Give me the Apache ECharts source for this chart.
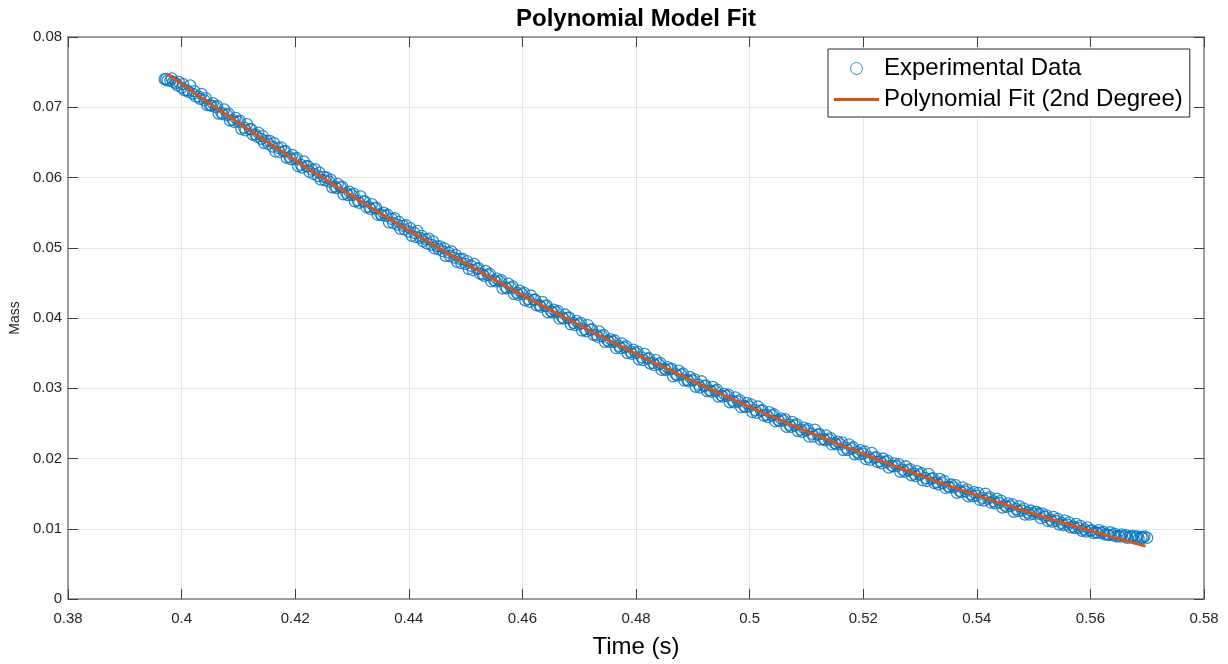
<!DOCTYPE html>
<html>
<head>
<meta charset="utf-8">
<script src="https://cdn.jsdelivr.net/npm/echarts@6/dist/echarts.min.js"></script>
<style>
html,body{margin:0;padding:0;background:#fff;}
#chart{width:1228px;height:664px;}
</style>
</head>
<body>
<div id="chart"></div>
<script>
const timeData = [
0.397,0.398,0.399,0.400,0.401,0.402,0.403,0.404,0.405,0.406,0.407,0.408,0.409,
0.410,0.411,0.412,0.413,0.414,0.415,0.416,0.417,0.418,0.419,
0.420,0.421,0.422,0.423,0.424,0.425,0.426,0.427,0.428,0.429,
0.430,0.431,0.432,0.433,0.434,0.435,0.436,0.437,0.438,0.439,
0.440,0.441,0.442,0.443,0.444,0.445,0.446,0.447,0.448,0.449,
0.450,0.451,0.452,0.453,0.454,0.455,0.456,0.457,0.458,0.459,
0.460,0.461,0.462,0.463,0.464,0.465,0.466,0.467,0.468,0.469,
0.470,0.471,0.472,0.473,0.474,0.475,0.476,0.477,0.478,0.479,
0.480,0.481,0.482,0.483,0.484,0.485,0.486,0.487,0.488,0.489,
0.490,0.491,0.492,0.493,0.494,0.495,0.496,0.497,0.498,0.499,
0.500,0.501,0.502,0.503,0.504,0.505,0.506,0.507,0.508,0.509,
0.510,0.511,0.512,0.513,0.514,0.515,0.516,0.517,0.518,0.519,
0.520,0.521,0.522,0.523,0.524,0.525,0.526,0.527,0.528,0.529,
0.530,0.531,0.532,0.533,0.534,0.535,0.536,0.537,0.538,0.539,
0.540,0.541,0.542,0.543,0.544,0.545,0.546,0.547,0.548,0.549,
0.550,0.551,0.552,0.553,0.554,0.555,0.556,0.557,0.558,0.559,
0.560,0.561,0.562,0.563,0.564,0.565,0.566,0.567,0.568,0.569,
0.570
];
const massData = [
0.0740,0.0738,0.0734,0.0728,0.0724,0.0719,0.0715,0.0710,0.0703,0.0700,0.0692,0.0689,0.0682,
0.0679,0.0671,0.0669,0.0661,0.0655,0.0652,0.0644,0.0642,0.0637,0.0629,
0.0626,0.0618,0.0616,0.0611,0.0602,0.0601,0.0594,0.0587,0.0586,0.0578,
0.0575,0.0567,0.0566,0.0558,0.0556,0.0548,0.0545,0.0541,0.0533,0.0531,
0.0523,0.0521,0.0514,0.0512,0.0504,0.0502,0.0495,0.0493,0.0486,0.0484,
0.0477,0.0474,0.0470,0.0462,0.0461,0.0454,0.0452,0.0444,0.0443,0.0436,
0.0434,0.0427,0.0426,0.0418,0.0417,0.0410,0.0408,0.0401,0.0400,0.0393,
0.0391,0.0384,0.0383,0.0376,0.0374,0.0368,0.0366,0.0360,0.0358,0.0352,
0.0350,0.0344,0.0342,0.0336,0.0334,0.0328,0.0327,0.0320,0.0319,0.0312,
0.0311,0.0305,0.0303,0.0297,0.0296,0.0290,0.0289,0.0282,0.0281,0.0275,
0.0274,0.0269,0.0268,0.0262,0.0261,0.0255,0.0254,0.0248,0.0247,0.0241,
0.0240,0.0235,0.0234,0.0228,0.0227,0.0222,0.0220,0.0215,0.0214,0.0209,
0.0207,0.0202,0.0201,0.0196,0.0195,0.0190,0.0189,0.0184,0.0183,0.0178,
0.0177,0.0172,0.0171,0.0166,0.0165,0.0160,0.0159,0.0154,0.0153,0.0149,
0.0147,0.0144,0.0143,0.0139,0.0137,0.0133,0.0132,0.0128,0.0126,0.0123,
0.0121,0.0121,0.0117,0.0113,0.0111,0.0108,0.0106,0.0103,0.0101,0.0099,
0.0097,0.0095,0.0094,0.0092,0.0091,0.0090,0.0089,0.0089,0.0088,0.0088,
0.0087
];
const timeHalf = [
0.3975,0.3985,0.3995,0.4005,0.4015,0.4025,0.4035,0.4045,0.4055,0.4065,0.4075,0.4085,0.4095,
0.4105,0.4115,0.4125,0.4135,0.4145,0.4155,0.4165,0.4175,0.4185,0.4195,
0.4205,0.4215,0.4225,0.4235,0.4245,0.4255,0.4265,0.4275,0.4285,0.4295,
0.4305,0.4315,0.4325,0.4335,0.4345,0.4355,0.4365,0.4375,0.4385,0.4395,
0.4405,0.4415,0.4425,0.4435,0.4445,0.4455,0.4465,0.4475,0.4485,0.4495,
0.4505,0.4515,0.4525,0.4535,0.4545,0.4555,0.4565,0.4575,0.4585,0.4595,
0.4605,0.4615,0.4625,0.4635,0.4645,0.4655,0.4665,0.4675,0.4685,0.4695,
0.4705,0.4715,0.4725,0.4735,0.4745,0.4755,0.4765,0.4775,0.4785,0.4795,
0.4805,0.4815,0.4825,0.4835,0.4845,0.4855,0.4865,0.4875,0.4885,0.4895,
0.4905,0.4915,0.4925,0.4935,0.4945,0.4955,0.4965,0.4975,0.4985,0.4995,
0.5005,0.5015,0.5025,0.5035,0.5045,0.5055,0.5065,0.5075,0.5085,0.5095,
0.5105,0.5115,0.5125,0.5135,0.5145,0.5155,0.5165,0.5175,0.5185,0.5195,
0.5205,0.5215,0.5225,0.5235,0.5245,0.5255,0.5265,0.5275,0.5285,0.5295,
0.5305,0.5315,0.5325,0.5335,0.5345,0.5355,0.5365,0.5375,0.5385,0.5395,
0.5405,0.5415,0.5425,0.5435,0.5445,0.5455,0.5465,0.5475,0.5485,0.5495,
0.5505,0.5515,0.5525,0.5535,0.5545,0.5555,0.5565,0.5575,0.5585,0.5595,
0.5605,0.5615,0.5625,0.5635,0.5645,0.5655,0.5665,0.5675,0.5685,0.5695
];
const massHalf = [
0.0738,0.0736,0.0736,0.0724,0.0731,0.0715,0.0719,0.0703,0.0706,0.0691,0.0697,0.0681,0.0685,
0.0669,0.0676,0.0661,0.0664,0.0649,0.0652,0.0637,0.0643,0.0628,0.0632,
0.0616,0.0623,0.0608,0.0612,0.0597,0.0600,0.0586,0.0591,0.0576,0.0580,
0.0566,0.0573,0.0558,0.0562,0.0547,0.0550,0.0536,0.0542,0.0527,0.0532,
0.0517,0.0524,0.0509,0.0513,0.0499,0.0502,0.0488,0.0495,0.0480,0.0484,
0.0470,0.0477,0.0463,0.0467,0.0452,0.0456,0.0442,0.0449,0.0434,0.0439,
0.0425,0.0432,0.0418,0.0423,0.0408,0.0412,0.0399,0.0405,0.0391,0.0396,
0.0382,0.0390,0.0376,0.0381,0.0366,0.0370,0.0357,0.0364,0.0350,0.0355,
0.0341,0.0349,0.0335,0.0340,0.0326,0.0330,0.0317,0.0325,0.0311,0.0316,
0.0302,0.0310,0.0296,0.0302,0.0288,0.0292,0.0280,0.0287,0.0273,0.0279,
0.0266,0.0274,0.0261,0.0266,0.0253,0.0257,0.0245,0.0252,0.0239,0.0244,
0.0231,0.0241,0.0227,0.0233,0.0220,0.0224,0.0212,0.0220,0.0206,0.0212,
0.0199,0.0208,0.0195,0.0200,0.0187,0.0193,0.0181,0.0189,0.0176,0.0182,
0.0169,0.0178,0.0165,0.0171,0.0158,0.0163,0.0151,0.0159,0.0146,0.0152,
0.0141,0.0150,0.0137,0.0143,0.0130,0.0136,0.0124,0.0132,0.0120,0.0126,
0.0124,0.0122,0.0111,0.0117,0.0106,0.0112,0.0102,0.0107,0.0097,0.0102,
0.0094,0.0098,0.0092,0.0095,0.0089,0.0092,0.0087,0.0090,0.0086,0.0089
];
const timeQuarter = [
0.39725,0.39825,0.39925,0.40025,0.40125,0.40225,0.40325,0.40425,0.40525,0.40625,0.40725,0.40825,0.40925,
0.41025,0.41125,0.41225,0.41325,0.41425,0.41525,0.41625,0.41725,0.41825,0.41925,
0.42025,0.42125,0.42225,0.42325,0.42425,0.42525,0.42625,0.42725,0.42825,0.42925,
0.43025,0.43125,0.43225,0.43325,0.43425,0.43525,0.43625,0.43725,0.43825,0.43925,
0.44025,0.44125,0.44225,0.44325,0.44425,0.44525,0.44625,0.44725,0.44825,0.44925,
0.45025,0.45125,0.45225,0.45325,0.45425,0.45525,0.45625,0.45725,0.45825,0.45925,
0.46025,0.46125,0.46225,0.46325,0.46425,0.46525,0.46625,0.46725,0.46825,0.46925,
0.47025,0.47125,0.47225,0.47325,0.47425,0.47525,0.47625,0.47725,0.47825,0.47925,
0.48025,0.48125,0.48225,0.48325,0.48425,0.48525,0.48625,0.48725,0.48825,0.48925,
0.49025,0.49125,0.49225,0.49325,0.49425,0.49525,0.49625,0.49725,0.49825,0.49925,
0.50025,0.50125,0.50225,0.50325,0.50425,0.50525,0.50625,0.50725,0.50825,0.50925,
0.51025,0.51125,0.51225,0.51325,0.51425,0.51525,0.51625,0.51725,0.51825,0.51925,
0.52025,0.52125,0.52225,0.52325,0.52425,0.52525,0.52625,0.52725,0.52825,0.52925,
0.53025,0.53125,0.53225,0.53325,0.53425,0.53525,0.53625,0.53725,0.53825,0.53925,
0.54025,0.54125,0.54225,0.54325,0.54425,0.54525,0.54625,0.54725,0.54825,0.54925,
0.55025,0.55125,0.55225,0.55325,0.55425,0.55525,0.55625,0.55725,0.55825,0.55925,
0.56025,0.56125,0.56225,0.56325,0.56425,0.56525,0.56625,0.56725,0.56825,0.56925
];
const massQuarter = [
0.0740,0.0741,0.0731,0.0733,0.0722,0.0723,0.0712,0.0713,0.0702,0.0702,0.0690,0.0691,0.0679,
0.0681,0.0667,0.0669,0.0658,0.0659,0.0648,0.0649,0.0636,0.0638,0.0626,
0.0628,0.0614,0.0616,0.0605,0.0607,0.0596,0.0597,0.0585,0.0587,0.0575,
0.0577,0.0564,0.0566,0.0555,0.0557,0.0546,0.0547,0.0535,0.0537,0.0526,
0.0528,0.0515,0.0517,0.0506,0.0509,0.0498,0.0499,0.0488,0.0490,0.0478,
0.0481,0.0468,0.0471,0.0460,0.0463,0.0452,0.0454,0.0442,0.0445,0.0433,
0.0436,0.0423,0.0426,0.0416,0.0418,0.0408,0.0410,0.0399,0.0401,0.0390,
0.0393,0.0381,0.0384,0.0373,0.0376,0.0366,0.0368,0.0357,0.0360,0.0349,
0.0352,0.0340,0.0343,0.0333,0.0336,0.0326,0.0328,0.0318,0.0321,0.0310,
0.0313,0.0301,0.0304,0.0295,0.0298,0.0288,0.0291,0.0280,0.0283,0.0273,
0.0277,0.0265,0.0269,0.0259,0.0263,0.0253,0.0256,0.0245,0.0249,0.0238,
0.0242,0.0231,0.0235,0.0226,0.0229,0.0220,0.0223,0.0212,0.0216,0.0206,
0.0210,0.0198,0.0202,0.0193,0.0197,0.0189,0.0192,0.0181,0.0185,0.0175,
0.0179,0.0168,0.0172,0.0163,0.0168,0.0159,0.0162,0.0152,0.0156,0.0146,
0.0151,0.0140,0.0145,0.0136,0.0140,0.0131,0.0135,0.0125,0.0129,0.0120,
0.0124,0.0115,0.0119,0.0110,0.0114,0.0105,0.0109,0.0101,0.0104,0.0096,
0.0098,0.0094,0.0096,0.0091,0.0093,0.0089,0.0091,0.0088,0.0089,0.0087
];
// Fitted curve
const fitTime = [
0.3976,0.400,0.405,0.410,0.415,0.420,0.425,0.430,0.435,0.440,0.445,0.450,
0.455,0.460,0.465,0.470,0.475,0.480,0.485,0.490,0.495,0.500,0.505,0.510,
0.515,0.520,0.525,0.530,0.535,0.540,0.545,0.550,0.555,0.560,0.565,0.5697
];
const fitMass = [
0.07466,0.07330,0.07051,0.06778,0.06509,0.06246,0.05988,0.05735,0.05488,0.05245,0.05008,0.04775,
0.04548,0.04326,0.04109,0.03898,0.03691,0.03490,0.03294,0.03103,0.02917,0.02736,0.02560,0.02390,
0.02225,0.02065,0.01910,0.01760,0.01615,0.01476,0.01341,0.01212,0.01088,0.00969,0.00856,0.00753
];
const seriesNames = ['Experimental Data', 'Polynomial Fit (2nd Degree)'];
const titleText = 'Polynomial Model Fit';
const xName = 'Time (s)';
const yName = 'Mass';

const FONT = '"Liberation Sans", Arial, Helvetica, sans-serif';
const AXIS_COLOR = '#808080';
const TEXT_COLOR = '#262626';

const chart = echarts.init(document.getElementById('chart'), null, {renderer: 'canvas'});

const baseX = {
  type: 'value', min: 0.38, max: 0.58, interval: 0.02,
  axisLine: {show: true, onZero: false, lineStyle: {color: AXIS_COLOR, width: 1.5}},
  axisTick: {show: true, inside: true, length: 10, lineStyle: {color: '#404040', width: 1}}
};
const baseY = {
  type: 'value', min: 0, max: 0.08, interval: 0.01,
  axisLine: {show: true, onZero: false, lineStyle: {color: AXIS_COLOR, width: 1.5}},
  axisTick: {show: true, inside: true, length: 10, lineStyle: {color: '#404040', width: 1}}
};

const toPairs = (xs, ys) => xs.map((t, i) => [t, ys[i]]);
const scatterPoints = toPairs(timeData, massData)
  .concat(toPairs(timeHalf, massHalf))
  .concat(toPairs(timeQuarter, massQuarter));

chart.setOption({
  animation: false,
  backgroundColor: '#fff',
  textStyle: {fontFamily: FONT},
  title: {
    text: titleText, left: 636, top: 7, padding: 0, textAlign: 'center',
    textStyle: {fontSize: 24, fontWeight: 'bold', color: '#000', fontFamily: FONT}
  },
  grid: {left: 68, right: 24, top: 37, bottom: 61, containLabel: false},
  legend: {
    orient: 'vertical', left: 828, top: 49,
    padding: [6, 7, 4, 6], itemGap: 4, itemWidth: 45, itemHeight: 12,
    backgroundColor: '#fff', borderColor: '#262626', borderWidth: 1,
    textStyle: {fontSize: 24, color: '#000', fontFamily: FONT, lineHeight: 27},
    data: [
      {name: seriesNames[0], icon: 'circle', itemStyle: {borderWidth: 1}},
      {name: seriesNames[1], icon: 'path://M0,0L45,0L45,3L0,3Z'}
    ]
  },
  xAxis: [
    Object.assign({}, baseX, {
      position: 'bottom',
      axisLabel: {fontSize: 15, color: TEXT_COLOR, margin: 12, fontFamily: FONT},
      splitLine: {show: true, lineStyle: {color: '#E5E5E5', width: 1}},
      name: xName, nameLocation: 'middle', nameGap: 36,
      nameTextStyle: {fontSize: 24, color: '#000', fontFamily: FONT}
    }),
    Object.assign({}, baseX, {
      position: 'top',
      axisLabel: {show: false},
      splitLine: {show: false}
    })
  ],
  yAxis: [
    Object.assign({}, baseY, {
      position: 'left',
      axisLabel: {fontSize: 15, color: TEXT_COLOR, margin: 6, fontFamily: FONT},
      splitLine: {show: true, lineStyle: {color: '#E5E5E5', width: 1}},
      name: yName, nameLocation: 'middle', nameGap: 42,
      nameTextStyle: {fontSize: 14, color: TEXT_COLOR, fontFamily: FONT}
    }),
    Object.assign({}, baseY, {
      position: 'right',
      axisLabel: {show: false},
      splitLine: {show: false}
    })
  ],
  series: [
    {
      name: seriesNames[0], type: 'scatter',
      xAxisIndex: 0, yAxisIndex: 0,
      symbol: 'circle', symbolSize: 11,
      large: false,
      itemStyle: {color: 'rgba(0,0,0,0)', borderColor: '#0072BD', borderWidth: 1.3},
      data: scatterPoints,
      z: 2
    },
    {
      name: seriesNames[1], type: 'line',
      xAxisIndex: 0, yAxisIndex: 0,
      symbol: 'none', showSymbol: false, smooth: true,
      lineStyle: {color: '#D95319', width: 3},
      itemStyle: {color: '#D95319'},
      data: toPairs(fitTime, fitMass),
      z: 3
    }
  ]
});
</script>
</body>
</html>
